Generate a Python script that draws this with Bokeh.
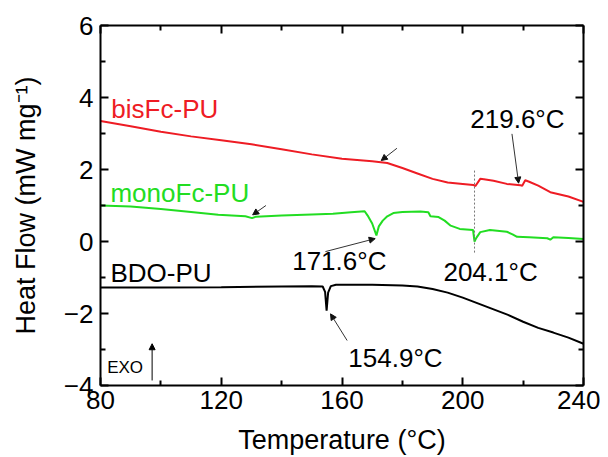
from bokeh.plotting import figure
from bokeh.models import LinearAxis, Range1d, FixedTicker, Arrow, NormalHead, ColumnDataSource
from bokeh.core.properties import value
from bokeh.embed import file_html
from bokeh.resources import INLINE

# ---- data ----
bis_T = [80, 90, 100, 110, 120, 130, 140, 150, 160, 170, 175, 180, 185, 190, 195, 200, 203.5, 204.2,
         205.8, 207, 210.2, 214.6, 219.1, 219.7, 220.7, 222, 225, 229, 235, 240]
bis_Y = [3.35, 3.20, 3.05, 2.92, 2.81, 2.70, 2.56, 2.42, 2.30, 2.23, 2.18, 2.04, 1.89, 1.74, 1.64, 1.60, 1.57, 1.54,
         1.74, 1.73, 1.69, 1.60, 1.56, 1.55, 1.70, 1.66, 1.55, 1.37, 1.25, 1.10]

mono_T = [80, 90, 100, 110, 119, 128, 130.2, 131.5, 140, 150, 157, 163, 167.5, 168.5, 170, 171.4, 172.2, 173.5,
          175, 177, 180, 186, 188.6, 189.3, 192, 194, 196, 199, 203.4, 203.9, 204.5, 205.8, 209, 214.6,
          216.5, 218, 222, 228, 229, 230, 235, 240]
mono_Y = [1.00, 0.97, 0.90, 0.82, 0.74, 0.70, 0.65, 0.69, 0.72, 0.75, 0.77, 0.81, 0.84, 0.72, 0.50, 0.17, 0.42, 0.58,
          0.70, 0.79, 0.82, 0.83, 0.81, 0.70, 0.68, 0.58, 0.44, 0.35, 0.32, 0.00, 0.10, 0.26, 0.32, 0.27,
          0.20, 0.13, 0.12, 0.09, 0.05, 0.12, 0.10, 0.07]

bdo_T = [80, 100, 120, 140, 150, 153.6, 154.4, 154.9, 155.4, 156.3, 158, 170, 180, 185, 190, 195, 200, 205,
         210, 215, 220, 225, 230, 235, 240]
bdo_Y = [-1.28, -1.28, -1.27, -1.25, -1.24, -1.25, -1.40, -1.92, -1.42, -1.24, -1.20, -1.20, -1.22, -1.25, -1.32,
         -1.42, -1.56, -1.72, -1.88, -2.04, -2.23, -2.40, -2.53, -2.67, -2.84]

x_ticks = [80, 120, 160, 200, 240]
y_ticks = [-4, -2, 0, 2, 4, 6]

series_names = ["bisFc-PU", "monoFc-PU", "BDO-PU"]
series_label_x = [83.6, 83.3, 83.3]
series_label_y = [3.69, 1.35, -0.875]

peak_text = ["219.6°C", "171.6°C", "204.1°C", "154.9°C"]
peak_text_x = [202.5, 143.5, 193.6, 162.1]
peak_text_y = [3.41, -0.55, -0.85, -3.24]

arrow_x0 = [178.2, 134.8, 216.3, 154.5, 161.7]
arrow_y0 = [2.59, 1.00, 2.99, -0.28, -2.75]
arrow_x1 = [173.0, 130.4, 218.5, 171.0, 156.2]
arrow_y1 = [2.25, 0.74, 1.62, 0.08, -2.01]

dash_x = 203.9
dash_y = [1.97, -0.33]

exo_x, exo_y = 82.2, -3.51
exo_arrow_x = 97.1
exo_arrow_y = [-3.86, -2.84]

RED = "#ee1c24"
GREEN = "#22dd22"
FONT = "Liberation Sans"

p = figure(width=600, height=457, output_backend="svg", toolbar_location=None,
           x_range=Range1d(80, 240), y_range=Range1d(-4, 6),
           min_border_left=100, min_border_right=17, min_border_top=25, min_border_bottom=72,
           x_axis_label="Temperature (°C)", y_axis_label="Heat Flow (mW mg⁻¹)")
p.grid.visible = False
p.outline_line_color = None
p.background_fill_color = "white"
p.border_fill_color = "white"

def style_axis(ax, ticks, minor, labels=True):
    ax.ticker = FixedTicker(ticks=ticks, minor_ticks=minor)
    ax.axis_line_width = 2
    ax.axis_line_color = "black"
    ax.major_tick_in = 8
    ax.major_tick_out = 0
    ax.minor_tick_in = 5
    ax.minor_tick_out = 0
    ax.major_tick_line_width = 2
    ax.minor_tick_line_width = 2
    ax.major_tick_line_color = "black"
    ax.minor_tick_line_color = "black"
    ax.major_label_text_font = FONT
    ax.major_label_text_font_size = "26px"
    ax.major_label_text_color = "black"
    ax.axis_label_text_font = FONT
    ax.axis_label_text_font_size = "27px"
    ax.axis_label_text_font_style = "normal"
    ax.axis_label_text_color = "black"
    if not labels:
        ax.major_label_text_font_size = "0px"
        ax.major_label_text_alpha = 0

x_minor = [100, 140, 180, 220]
y_minor = [-3, -1, 1, 3, 5]
style_axis(p.xaxis[0], x_ticks, x_minor)
style_axis(p.yaxis[0], y_ticks, y_minor)
p.xaxis[0].major_label_standoff = 5
p.xaxis[0].axis_label_standoff = 13
p.yaxis[0].major_label_standoff = 7
p.yaxis[0].axis_label_standoff = 20

top = LinearAxis()
style_axis(top, x_ticks, x_minor, labels=False)
right = LinearAxis()
style_axis(right, y_ticks, y_minor, labels=False)
p.add_layout(top, "above")
p.add_layout(right, "right")
top.major_label_standoff = 0
right.major_label_standoff = 0

p.line(bis_T, bis_Y, line_color=RED, line_width=2)
p.line(mono_T, mono_Y, line_color=GREEN, line_width=2)
p.line(bdo_T, bdo_Y, line_color="black", line_width=2)

p.segment(x0=[dash_x], y0=[dash_y[0]], x1=[dash_x], y1=[dash_y[1]],
          line_color="#777777", line_width=1, line_dash="2 2")

p.text(x=series_label_x, y=series_label_y, text=series_names,
       text_color=[RED, GREEN, "black"], text_font=value(FONT), text_font_size="26px",
       text_baseline="middle", text_align="left")
p.text(x=peak_text_x, y=peak_text_y, text=peak_text,
       text_color="black", text_font=value(FONT), text_font_size="26px",
       text_baseline="middle", text_align="left")
p.text(x=[exo_x], y=[exo_y], text=["EXO"], text_color="black", text_font=value(FONT),
       text_font_size="17px", text_baseline="middle", text_align="left")

asrc = ColumnDataSource(dict(x0=arrow_x0, y0=arrow_y0, x1=arrow_x1, y1=arrow_y1))
p.add_layout(Arrow(source=asrc, x_start="x0", y_start="y0", x_end="x1", y_end="y1",
                   line_color="#333333", line_width=1,
                   end=NormalHead(size=6, fill_color="#111111", line_color="#111111", line_width=1)))
p.add_layout(Arrow(x_start=exo_arrow_x, y_start=exo_arrow_y[0], x_end=exo_arrow_x, y_end=exo_arrow_y[1],
                   line_color="black", line_width=1,
                   end=NormalHead(size=6, fill_color="black", line_color="black", line_width=1)))

open("out.html", "w").write(file_html(p, INLINE))
